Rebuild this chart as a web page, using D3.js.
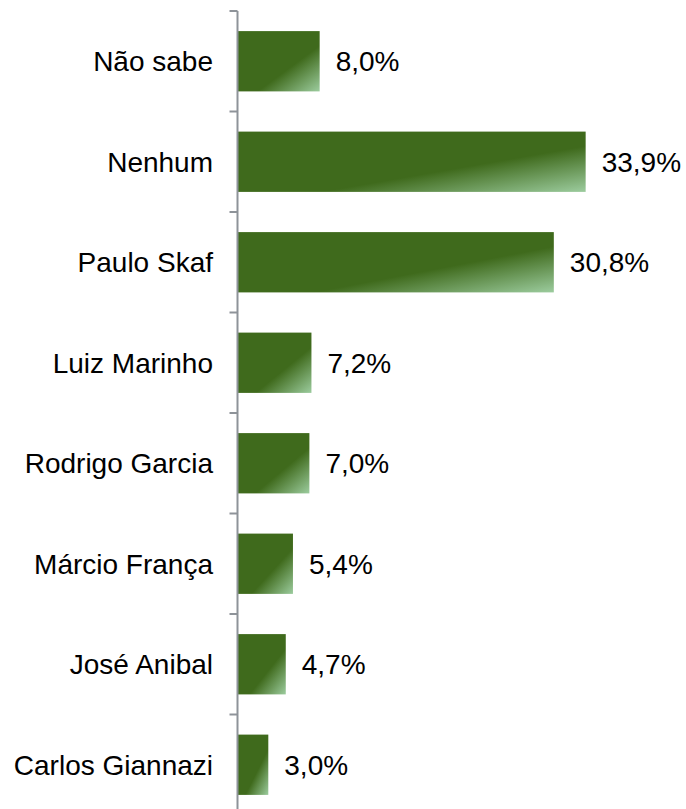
<!DOCTYPE html>
<html lang="pt">
<head>
<meta charset="utf-8">
<title>Intenção de voto</title>
<script src="https://cdn.jsdelivr.net/npm/d3@7"></script>
<style>
  body { margin: 0; background: #fff; }
  text { font-family: "Liberation Sans", Arial, sans-serif; }
</style>
</head>
<body>
<script>
var categories = ["Não sabe", "Nenhum", "Paulo Skaf", "Luiz Marinho", "Rodrigo Garcia", "Márcio França", "José Anibal", "Carlos Giannazi"];
var values = [8.0, 33.9, 30.8, 7.2, 7.0, 5.4, 4.7, 3.0];

var width = 686, height = 809;
var axisX = 237.5, topY = 11, bandH = 100.5;

var svg = d3.select("body").append("svg")
    .attr("width", width)
    .attr("height", height);

var grad = svg.append("defs").append("linearGradient")
    .attr("id", "barFill")
    .attr("x1", 0).attr("y1", 0).attr("x2", 1).attr("y2", 1);
grad.append("stop").attr("offset", "0%").attr("stop-color", "#3f6a1c");
grad.append("stop").attr("offset", "62%").attr("stop-color", "#3f6a1c");
grad.append("stop").attr("offset", "100%").attr("stop-color", "#9ccc9e");

var x = d3.scaleLinear().domain([0, 10]).range([axisX, axisX + 102.7]);
var y = d3.scaleBand().domain(categories)
    .range([topY, topY + bandH * categories.length])
    .paddingInner(0.4).paddingOuter(0.2);

svg.selectAll("rect.bar")
    .data(values)
    .enter()
    .append("rect")
    .attr("class", "bar")
    .attr("x", axisX + 0.5)
    .attr("y", function(d, i) { return y(categories[i]); })
    .attr("width", function(d) { return x(d) - axisX - 0.5; })
    .attr("height", y.bandwidth())
    .attr("fill", "url(#barFill)");

// axis line and ticks
var axis = svg.append("g");
axis.append("line")
    .attr("x1", axisX).attr("x2", axisX)
    .attr("y1", topY).attr("y2", height)
    .attr("stroke", "#8e9399").attr("stroke-width", 2);
axis.selectAll("line.tick")
    .data(d3.range(categories.length + 1))
    .enter()
    .append("line")
    .attr("class", "tick")
    .attr("x1", axisX - 8).attr("x2", axisX)
    .attr("y1", function(i) { return topY + i * bandH; })
    .attr("y2", function(i) { return topY + i * bandH; })
    .attr("stroke", "#8e9399").attr("stroke-width", 2);

svg.selectAll("text.cat")
    .data(categories)
    .enter()
    .append("text")
    .attr("class", "cat")
    .attr("x", 213)
    .attr("y", function(d) { return y(d) + y.bandwidth() / 2; })
    .attr("dy", "0.35em")
    .attr("text-anchor", "end")
    .attr("font-size", "28px")
    .attr("fill", "#000")
    .text(function(d) { return d; });

svg.selectAll("text.val")
    .data(values)
    .enter()
    .append("text")
    .attr("class", "val")
    .attr("x", function(d) { return x(d) + 16; })
    .attr("y", function(d, i) { return y(categories[i]) + y.bandwidth() / 2; })
    .attr("dy", "0.35em")
    .attr("font-size", "28px")
    .attr("fill", "#000")
    .text(function(d) { return d.toFixed(1).replace(".", ",") + "%"; });
</script>
</body>
</html>
